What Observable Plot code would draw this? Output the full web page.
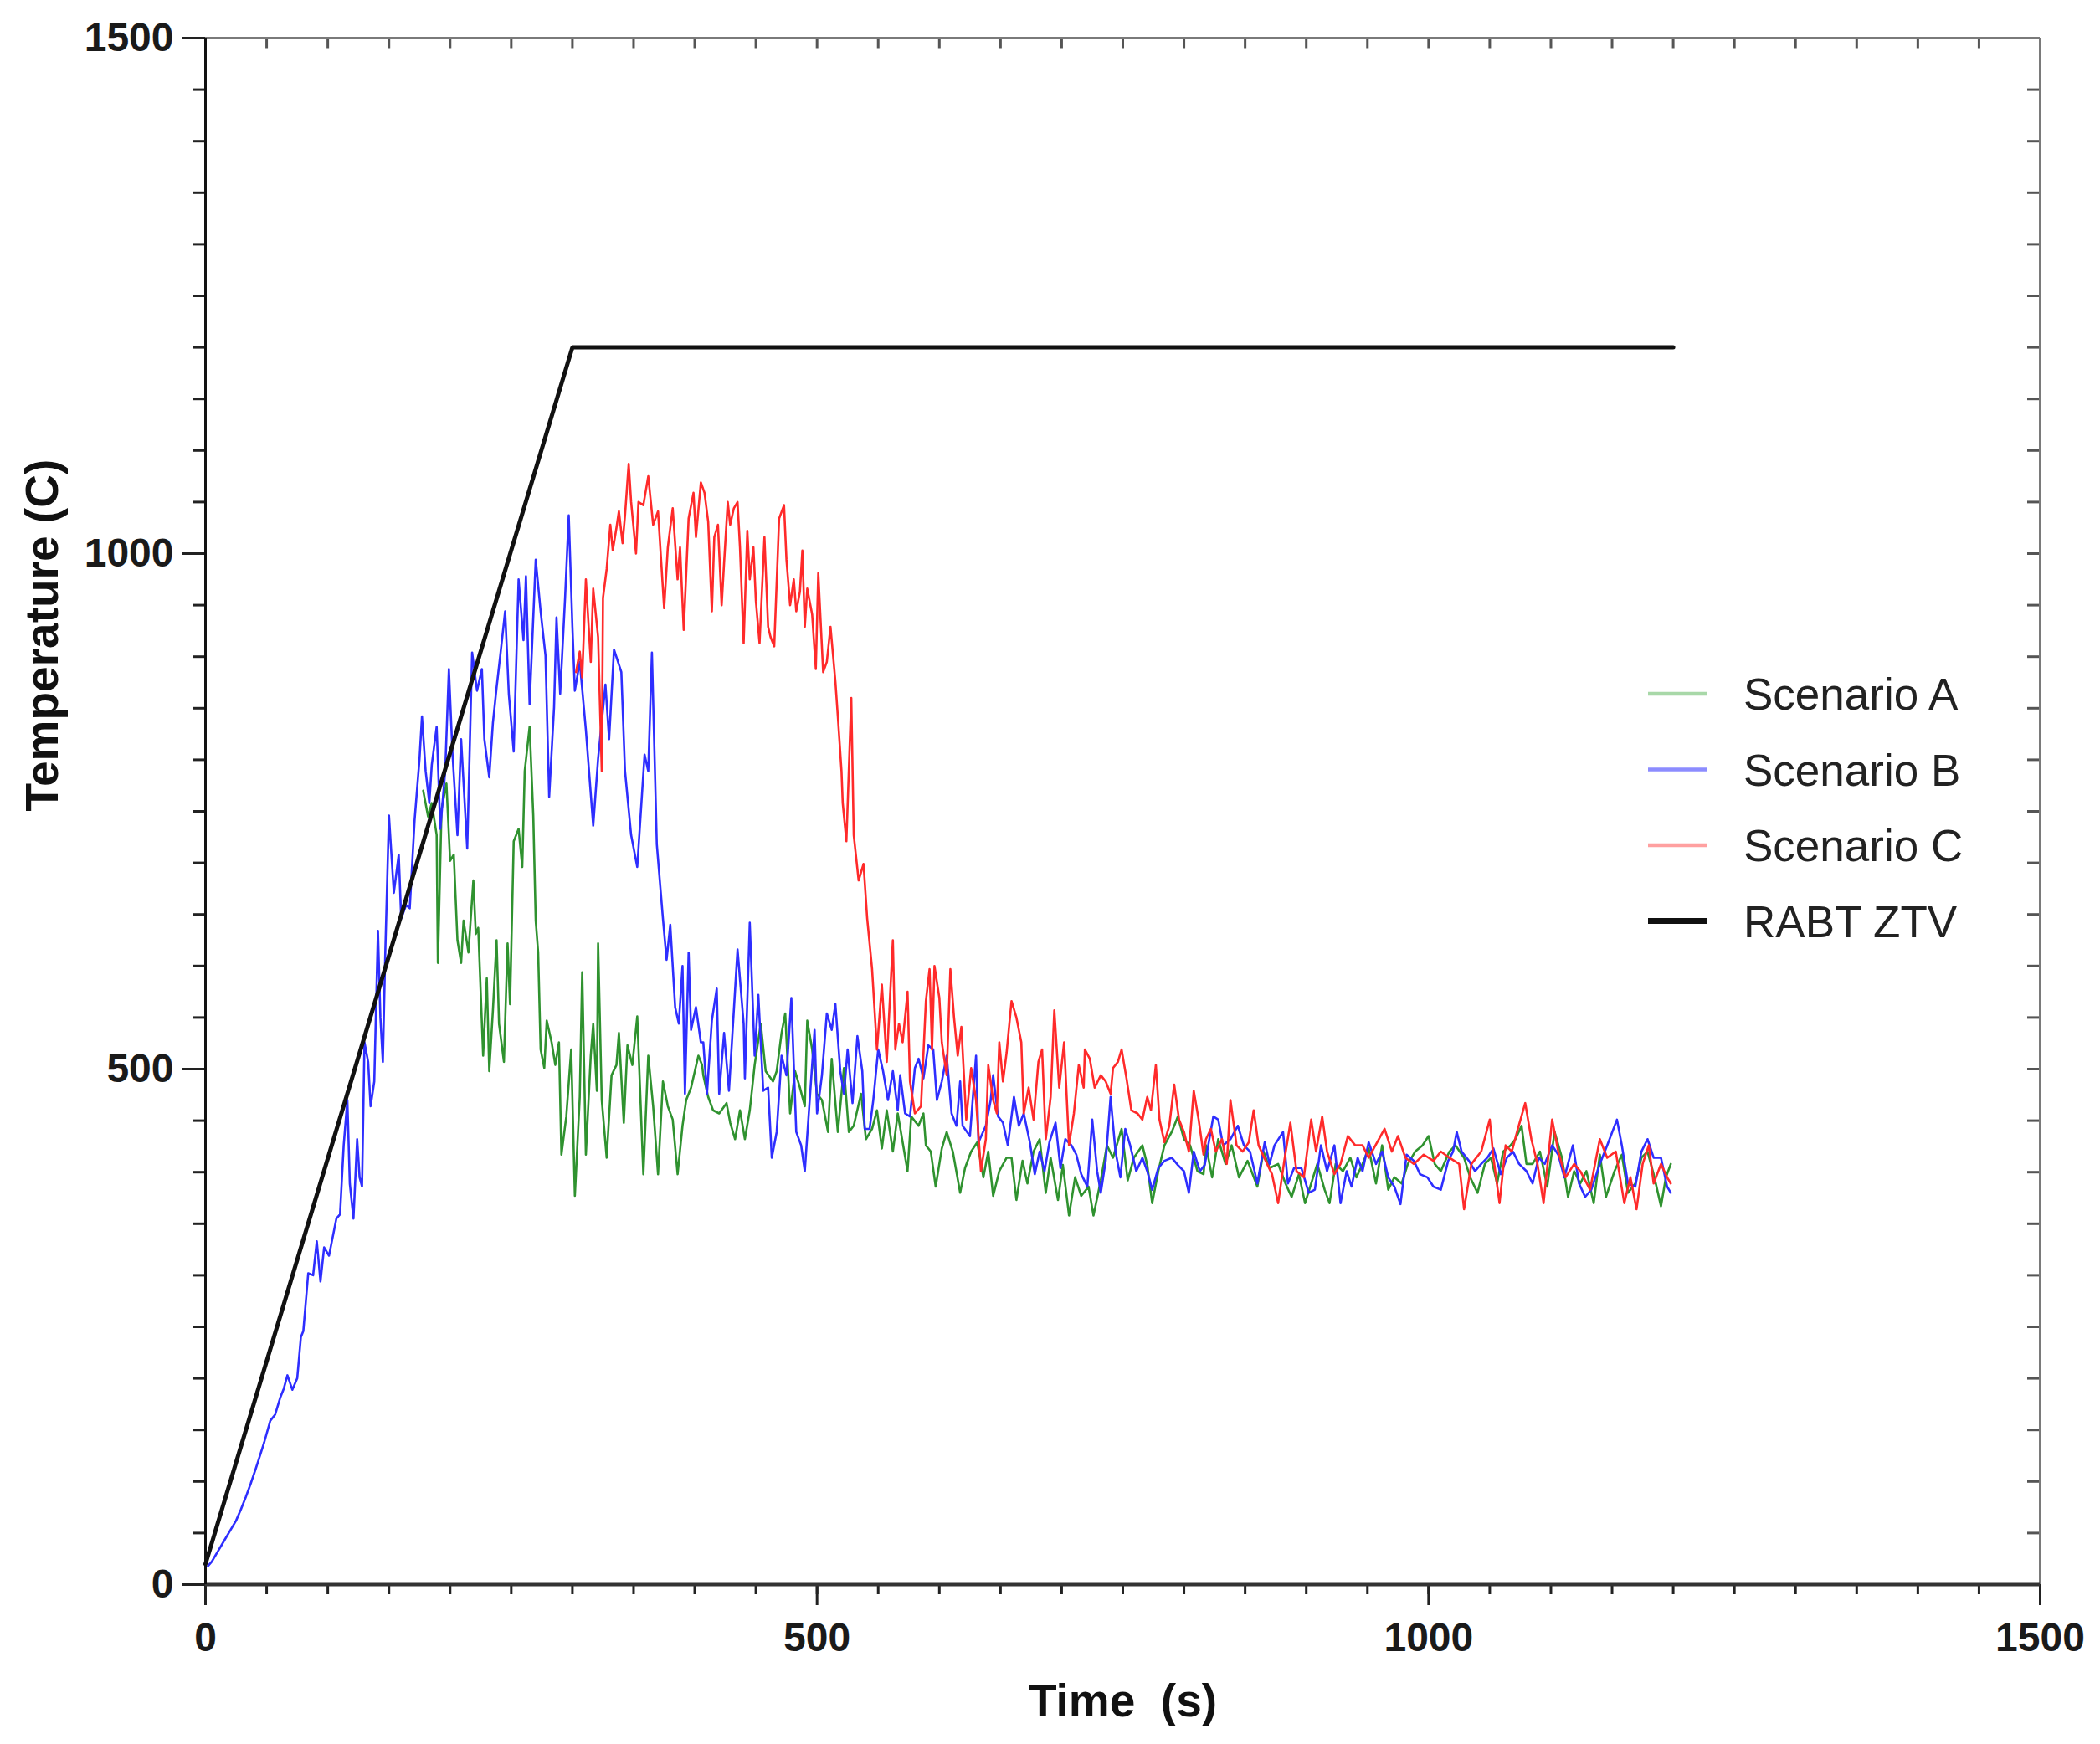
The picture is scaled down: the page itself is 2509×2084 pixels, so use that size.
<!DOCTYPE html>
<html>
<head>
<meta charset="utf-8">
<script src="https://cdn.jsdelivr.net/npm/d3@7"></script>
<script src="https://cdn.jsdelivr.net/npm/@observablehq/plot@0.6"></script>
<style>
  html, body { margin: 0; padding: 0; background: #fff; }
  #wrap { position: relative; width: 2509px; height: 2084px; overflow: hidden; }
  #wrap svg { display: block; }
  #legend { position: absolute; left: 1950px; top: 780px; }
</style>
</head>
<body>
<div id="wrap"></div>
<script>
// ---------------- data ----------------
const xTicksMajor = [0, 500, 1000, 1500];
const yTicksMajor = [0, 500, 1000, 1500];
const xTicksMinor = d3.range(0, 1501, 50);
const yTicksMinor = d3.range(0, 1501, 50);

const legendLabels = ["Scenario A", "Scenario B", "Scenario C", "RABT ZTV"];
const legendColors = ["#a8d8a8", "#8c8cff", "#ffa0a0", "#111111"];
const lineColors   = ["#2f922f", "#2e2eff", "#ff2a2a", "#111111"];

// RABT ZTV reference curve [time s, temperature C]
const rabtZtv = [[0, 20], [300, 1200], [1200, 1200]];

// Scenario A (green)
const scenarioA = [
  [178,770],[182,745],[185,758],[189,727],[190,603],[193,752],[197,777],[200,702],[203,708],[206,625],
  [209,603],[211,644],[215,613],[219,683],[221,631],[223,637],[227,513],[230,588],[232,498],[235,557],
  [238,625],[240,544],[244,507],[247,622],[249,563],[252,721],[256,733],[259,696],[261,789],[265,832],
  [268,746],[270,644],[272,613],[274,519],[277,501],[279,547],[283,526],[286,504],[289,526],[291,417],
  [295,454],[299,519],[302,377],[306,473],[308,594],[311,417],[315,513],[317,544],[320,479],[321,622],
  [324,470],[328,414],[332,494],[336,504],[338,535],[342,448],[345,523],[349,504],[353,551],[358,398],
  [362,513],[366,464],[370,398],[374,488],[378,464],[382,451],[386,398],[390,445],[393,470],[397,482],
  [403,513],[406,504],[407,494],[411,473],[415,460],[420,457],[426,467],[429,448],[433,432],[437,460],
  [441,432],[445,460],[449,504],[454,544],[458,498],[464,488],[467,498],[471,535],[474,554],[478,457],
  [482,498],[486,482],[490,464],[492,547],[496,519],[500,476],[504,470],[509,439],[512,510],[517,439],
  [522,501],[526,439],[530,445],[536,476],[540,432],[545,442],[549,460],[553,423],[557,460],[562,420],
  [566,457],[570,429],[574,401],[577,454],[583,445],[587,457],[589,426],[593,420],[597,386],[602,423],
  [606,439],[611,420],[617,380],[621,404],[626,420],[631,429],[636,395],[640,420],[644,377],[649,401],
  [655,414],[659,414],[663,373],[668,411],[672,389],[677,420],[682,432],[687,380],[691,414],[697,373],
  [701,407],[706,358],[711,395],[716,377],[722,386],[726,358],[732,392],[737,426],[742,414],[749,442],
  [754,392],[759,414],[766,426],[770,407],[774,370],[779,401],[784,426],[790,439],[795,454],[800,432],
  [805,426],[811,401],[816,398],[818,426],[823,395],[828,432],[834,408],[839,426],[845,395],[852,411],
  [860,386],[865,420],[870,404],[877,408],[883,389],[888,376],[894,398],[899,370],[904,389],[909,408],
  [915,383],[919,370],[924,408],[930,401],[936,414],[941,395],[946,408],[951,423],[957,389],[962,426],
  [967,383],[972,395],[978,389],[983,408],[989,420],[995,426],[1000,435],[1005,408],[1010,401],[1017,420],
  [1022,426],[1029,414],[1034,395],[1040,380],[1046,408],[1051,414],[1056,389],[1061,420],[1067,426],[1071,432],
  [1076,445],[1080,408],[1085,408],[1091,420],[1097,386],[1103,439],[1109,414],[1114,376],[1119,401],[1124,389],
  [1129,401],[1135,370],[1140,417],[1145,376],[1152,401],[1158,417],[1163,380],[1169,389],[1174,414],[1179,420],
  [1184,398],[1190,367],[1194,395],[1198,408]
];

// Scenario B (blue)
const scenarioB = [
  [2,18],[5,22],[10,32],[15,42],[20,52],[25,62],[29,73],[33,85],[37,98],[41,112],
  [44,123],[48,138],[53,159],[57,165],[61,181],[64,190],[67,203],[71,189],[75,200],[78,240],
  [80,246],[84,302],[88,300],[91,333],[94,294],[97,327],[101,319],[107,355],[110,359],[113,426],
  [116,470],[118,389],[121,355],[124,432],[126,395],[128,386],[130,526],[133,507],[135,464],[138,488],
  [141,634],[143,550],[145,507],[147,613],[150,746],[154,671],[158,708],[160,646],[164,659],[167,656],
  [171,742],[175,801],[177,842],[180,789],[183,758],[185,795],[189,832],[192,733],[196,789],[199,888],
  [202,805],[206,727],[209,820],[214,714],[218,904],[222,867],[226,888],[228,820],[232,783],[235,836],
  [238,870],[241,901],[245,944],[248,864],[252,808],[256,975],[260,916],[262,978],[265,854],[270,994],
  [274,944],[278,901],[281,764],[285,851],[287,938],[290,864],[294,957],[297,1037],[300,929],[302,867],
  [306,895],[311,829],[317,736],[321,801],[327,873],[330,820],[334,907],[340,885],[343,789],[348,727],
  [353,696],[359,805],[362,789],[365,904],[369,718],[374,646],[377,606],[380,640],[384,560],[387,544],
  [390,600],[392,476],[395,613],[397,538],[401,560],[405,526],[407,526],[410,476],[414,547],[418,578],
  [420,476],[424,535],[428,479],[435,616],[440,544],[441,491],[445,642],[449,513],[452,572],[456,479],
  [460,482],[463,414],[467,439],[471,513],[475,494],[479,569],[483,439],[487,426],[490,401],[494,470],
  [498,538],[500,457],[504,494],[508,554],[512,538],[515,563],[519,498],[522,476],[525,519],[529,467],
  [533,532],[537,498],[539,442],[543,442],[546,470],[550,519],[554,498],[558,470],[562,498],[566,460],
  [568,494],[572,457],[576,454],[580,501],[583,510],[587,491],[591,523],[595,519],[598,470],[602,488],
  [606,513],[610,457],[614,445],[617,488],[619,445],[625,435],[630,513],[632,429],[638,445],[642,470],
  [644,494],[648,454],[652,448],[656,426],[661,473],[665,445],[669,457],[674,429],[678,398],[682,420],
  [686,401],[690,429],[695,448],[699,404],[703,432],[708,426],[712,417],[716,398],[721,386],[725,451],
  [729,401],[732,380],[736,411],[740,473],[744,420],[748,395],[752,442],[756,426],[761,401],[766,414],
  [770,401],[774,383],[779,404],[784,411],[790,414],[795,407],[800,401],[804,380],[808,420],[813,401],
  [817,407],[824,454],[828,451],[832,426],[838,432],[844,445],[849,426],[854,420],[860,389],[866,429],
  [870,408],[874,426],[881,439],[885,389],[890,404],[896,404],[902,380],[907,383],[912,426],[917,401],
  [923,426],[928,370],[933,401],[937,386],[942,414],[946,401],[951,429],[957,408],[962,420],[967,395],
  [972,386],[977,369],[982,417],[988,411],[993,398],[999,395],[1004,386],[1010,383],[1016,411],[1020,420],
  [1023,439],[1027,420],[1033,411],[1038,401],[1043,408],[1048,414],[1053,423],[1059,398],[1064,414],[1069,420],
  [1074,408],[1080,401],[1085,389],[1090,414],[1095,408],[1101,426],[1106,417],[1111,395],[1118,426],[1123,389],
  [1128,376],[1133,383],[1140,408],[1146,426],[1154,451],[1158,426],[1163,389],[1169,386],[1174,420],[1179,432],
  [1184,414],[1190,414],[1195,386],[1198,380]
];

// Scenario C (red)
const scenarioC = [
  [303,885],[306,905],[308,880],[311,975],[315,895],[317,966],[321,919],[324,789],[325,957],[328,985],
  [331,1028],[333,1003],[336,1025],[338,1041],[341,1010],[343,1037],[346,1087],[348,1050],[352,1000],[354,1050],
  [358,1047],[362,1075],[366,1028],[370,1041],[375,947],[378,1006],[382,1044],[386,975],[388,1006],[391,926],
  [395,1034],[399,1059],[401,1016],[405,1069],[408,1059],[411,1031],[414,944],[416,1016],[419,1028],[422,950],
  [424,991],[427,1050],[429,1028],[432,1044],[435,1050],[437,1006],[440,913],[443,1022],[445,975],[448,1006],
  [450,954],[453,913],[457,1016],[460,929],[462,919],[465,910],[469,1034],[473,1047],[475,994],[478,950],
  [481,975],[483,944],[486,963],[488,1003],[490,929],[492,966],[496,941],[499,888],[501,981],[505,885],
  [508,895],[511,929],[515,876],[517,842],[520,789],[521,758],[524,721],[528,860],[530,727],[534,683],
  [538,699],[541,646],[545,597],[549,519],[553,582],[557,507],[562,625],[564,519],[567,544],[570,526],
  [574,575],[576,488],[580,457],[585,464],[589,566],[592,597],[594,519],[596,600],[600,569],[602,526],
  [606,494],[609,597],[612,550],[615,513],[618,541],[622,451],[626,501],[630,470],[634,401],[638,432],
  [640,504],[644,470],[647,457],[649,526],[652,488],[655,516],[659,566],[663,550],[667,526],[669,457],
  [673,482],[677,451],[681,507],[684,519],[687,432],[691,473],[694,557],[698,482],[702,526],[706,426],
  [710,457],[714,504],[718,482],[719,519],[723,510],[727,482],[732,494],[736,488],[740,476],[742,501],
  [746,507],[749,519],[753,491],[757,460],[762,457],[766,451],[770,473],[773,460],[777,504],[780,451],
  [784,429],[788,445],[792,485],[796,451],[800,439],[804,420],[808,479],[812,451],[816,417],[818,432],
  [822,442],[826,420],[831,432],[835,408],[838,470],[843,426],[848,420],[853,429],[857,460],[861,426],
  [868,408],[872,398],[877,370],[882,411],[887,448],[892,401],[898,395],[904,451],[908,420],[913,454],
  [917,420],[923,398],[928,408],[934,435],[940,426],[946,426],[951,414],[958,429],[964,442],[970,420],
  [975,435],[981,414],[988,408],[996,417],[1004,411],[1010,420],[1017,414],[1025,408],[1029,364],[1035,408],
  [1043,420],[1050,451],[1053,414],[1058,370],[1063,426],[1068,420],[1073,442],[1079,467],[1084,432],[1089,408],
  [1094,370],[1101,451],[1106,420],[1112,395],[1119,408],[1124,401],[1132,383],[1140,432],[1146,414],[1153,420],
  [1160,370],[1165,395],[1170,364],[1175,408],[1180,426],[1184,389],[1190,408],[1195,395],[1198,389]
];

// ---------------- chart ----------------
const W = 2509, H = 2084;
const mTop = 45, mRight = 72, mBottom = 191, mLeft = 245;
const xDomain = [0, 1500], yDomain = [0, 1500];
const pxPerX = (W - mLeft - mRight) / (xDomain[1] - xDomain[0]);
const pxPerY = (H - mTop - mBottom) / (yDomain[1] - yDomain[0]);

const toRows = (arr) => arr.map(([t, v]) => ({t, v}));
const font = '"Liberation Sans", Arial, Helvetica, sans-serif';

const chart = Plot.plot({
  width: W,
  height: H,
  marginTop: mTop, marginRight: mRight, marginBottom: mBottom, marginLeft: mLeft,
  x: {domain: xDomain},
  y: {domain: yDomain},
  style: {fontFamily: font, background: "#fff", overflow: "visible"},
  marks: [
    // minor ticks (outward) left & bottom
    Plot.axisY({ticks: yTicksMinor, tickSize: 15, tickFormat: () => "", stroke: "#222", strokeWidth: 3, label: null}),
    Plot.axisX({ticks: xTicksMinor, tickSize: 12, tickFormat: () => "", stroke: "#222", strokeWidth: 3, label: null}),
    // major ticks with labels
    Plot.axisY({ticks: yTicksMajor, tickSize: 28, tickPadding: 10, tickFormat: d3.format("d"),
      fontSize: 48, fontWeight: "bold", fill: "#1a1a1a", stroke: "#222", strokeWidth: 3, label: null}),
    Plot.axisX({ticks: xTicksMajor, tickSize: 25, tickPadding: 20, tickFormat: d3.format("d"),
      fontSize: 48, fontWeight: "bold", fill: "#1a1a1a", stroke: "#222", strokeWidth: 3, label: null}),
    // inward ticks on top and right
    Plot.ruleX(xTicksMinor, {x: d => d, y1: yDomain[1], y2: yDomain[1] - 12.5 / pxPerY, stroke: "#555", strokeWidth: 3}),
    Plot.ruleY(yTicksMinor, {y: d => d, x1: xDomain[1], x2: xDomain[1] - 15 / pxPerX, stroke: "#555", strokeWidth: 3}),
    // frame
    Plot.ruleY([yDomain[1]], {stroke: "#7a7a7a", strokeWidth: 3}),
    Plot.ruleX([xDomain[1]], {stroke: "#7a7a7a", strokeWidth: 3}),
    Plot.ruleY([yDomain[0]], {stroke: "#333", strokeWidth: 4}),
    Plot.ruleX([xDomain[0]], {stroke: "#111", strokeWidth: 3}),
    // data
    Plot.line(toRows(scenarioA), {x: "t", y: "v", stroke: lineColors[0], strokeWidth: 2.6}),
    Plot.line(toRows(scenarioB), {x: "t", y: "v", stroke: lineColors[1], strokeWidth: 2.6}),
    Plot.line(toRows(scenarioC), {x: "t", y: "v", stroke: lineColors[2], strokeWidth: 2.6}),
    Plot.line(toRows(rabtZtv), {x: "t", y: "v", stroke: lineColors[3], strokeWidth: 5, strokeLinejoin: "miter"}),
    // axis titles
    Plot.text(["Time\u00a0\u00a0(s)"], {frameAnchor: "bottom", dy: 157, lineAnchor: "bottom",
      fontSize: 55, fontWeight: "bold", fill: "#111"}),
    Plot.text(["Temperature (C)"], {frameAnchor: "left", rotate: -90, dx: -177, lineAnchor: "bottom",
      fontSize: 55, fontWeight: "bold", fill: "#111"})
  ]
});

const wrap = document.getElementById("wrap");
wrap.appendChild(chart);

// ---------------- legend (inside plot area, right side) ----------------
const leg = d3.select(wrap).append("svg")
  .attr("id", "legend")
  .attr("width", 520).attr("height", 380)
  .style("font-family", font);
const rowStep = 90.5;
legendLabels.forEach((lab, i) => {
  const yLine = 49 + i * rowStep;
  leg.append("line")
    .attr("x1", 19).attr("x2", 90)
    .attr("y1", yLine).attr("y2", yLine)
    .attr("stroke", legendColors[i])
    .attr("stroke-width", i === 3 ? 7 : 4.5);
  leg.append("text")
    .attr("x", 133).attr("y", yLine + 19)
    .attr("font-size", 53)
    .attr("fill", "#222")
    .text(lab);
});
</script>
</body>
</html>
